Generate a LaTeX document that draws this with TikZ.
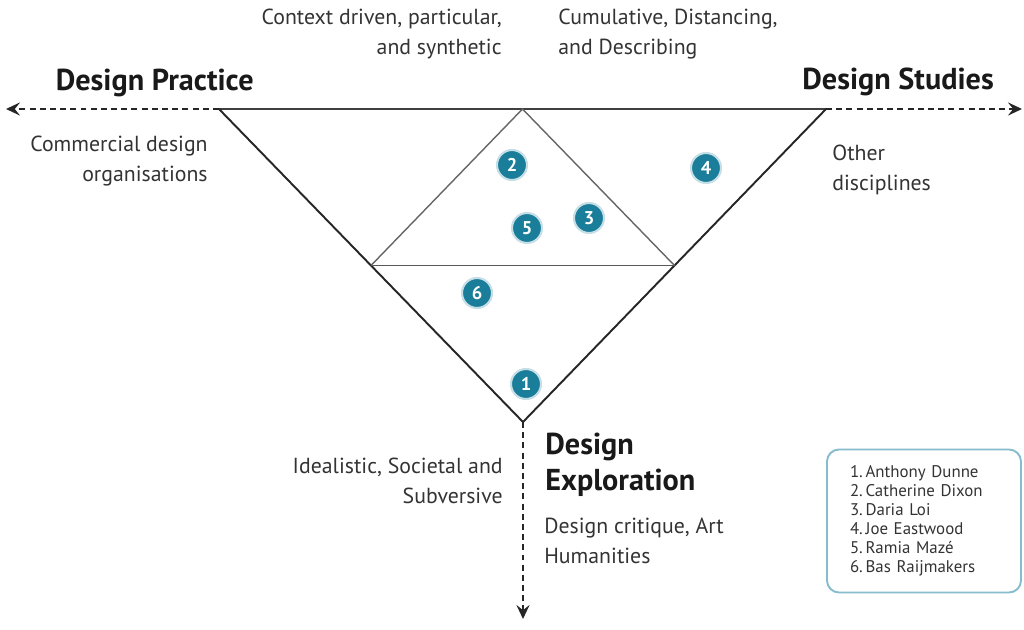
\documentclass[tikz,border=0pt]{standalone}
\usepackage{fontspec}
\setmainfont{PT Sans}
\usetikzlibrary{calc}
\usetikzlibrary{arrows.meta}
\definecolor{pinblue}{HTML}{1A7D99}
\definecolor{boxline}{HTML}{86BCCB}
\tikzset{
	pin/.style={circle,fill=pinblue,draw=pinblue!25,line width=1.2pt,text=white,
		font=\fontsize{10.5}{10.5}\selectfont\bfseries,inner sep=0pt,minimum size=6mm},
	flow/.style={line width=1pt,black!85,dash pattern=on 3.4pt off 2.4pt,
		-{Stealth[length=8pt,width=7.5pt,inset=3pt]}},
	lbl/.style={font=\fontsize{12.4}{17}\selectfont,text=black!80,inner sep=0pt},
	pole/.style={font=\fontsize{17.2}{20.5}\selectfont\bfseries,text=black!90,inner sep=0pt},
	legendbox/.style={draw=boxline,line width=1.1pt,rounded corners=2.4mm,align=left,
		font=\fontsize{9.6}{10.8}\selectfont,text=black!80,
		inner xsep=4.6mm,text width=29.6mm,minimum height=28.6mm}
}
\begin{document}
\begin{tikzpicture}[x=0.2mm,y=-0.2mm]
	\useasboundingbox (0,0) rectangle (1024,630);
	% corners of the big triangle
	\coordinate (pl) at (219,109);
	\coordinate (pr) at (826,109);
	\coordinate (apex) at (523,422);
	\coordinate (mt) at ($(pl)!0.5!(pr)$);
	\coordinate (ml) at ($(pl)!0.5!(apex)$);
	\coordinate (mr) at ($(pr)!0.5!(apex)$);
	\coordinate (westend) at (6,109);
	\coordinate (eastend) at (1022,109);
	\coordinate (southend) at (523,619);
	% the three directions
	\draw[flow] (pl) -- (westend);
	\draw[flow] (pr) -- (eastend);
	\draw[flow] (apex) -- (southend);
	\draw[line width=1.4pt,black!75] (pl) -- (pr);
	\draw[line width=1.1pt,black!85] (pl) -- (apex) -- (pr);
	\draw[line width=0.8pt,black!60] (ml) -- (mt) -- (mr);
	\draw[line width=0.9pt,black!65] (ml) -- (mr);
	% labels
	\node[lbl,align=right,anchor=east] (context) at (502,34) {Context driven, particular,\\and synthetic};
	\node[lbl,align=left,anchor=west] (cumul) at (558,34) {Cumulative, Distancing,\\and Describing};
	\node[pole,anchor=east] (practice) at (254,83) {Design Practice};
	\node[pole,anchor=west] (studies) at (802,82) {Design Studies};
	\node[lbl,align=right,anchor=east] (commercial) at (208,161) {Commercial design\\organisations};
	\node[lbl,align=left,anchor=west] (other) at (832,170) {Other\\disciplines};
	\node[pole,align=left,anchor=west] (exploration) at (545,465) {Design\\Exploration};
	\node[lbl,align=left,anchor=west] (critique) at (544,541) {Design critique, Art\\Humanities};
	\node[lbl,align=right,anchor=east] (ideal) at (503,481) {Idealistic, Societal and\\Subversive};
	% the six positions
	\node[pin] (p1) at (526,384) {1};
	\node[pin] (p2) at (512,165) {2};
	\node[pin] (p3) at (589,218) {3};
	\node[pin] (p4) at (706,168) {4};
	\node[pin] (p5) at (527,228) {5};
	\node[pin] (p6) at (477,293) {6};
	\node[legendbox] (legend) at (924,521) {1.\,Anthony Dunne\\2.\,Catherine Dixon\\3.\,Daria Loi\\4.\,Joe Eastwood\\5.\,Ramia Maz\'e\\6.\,Bas Raijmakers};
\end{tikzpicture}
\end{document}
